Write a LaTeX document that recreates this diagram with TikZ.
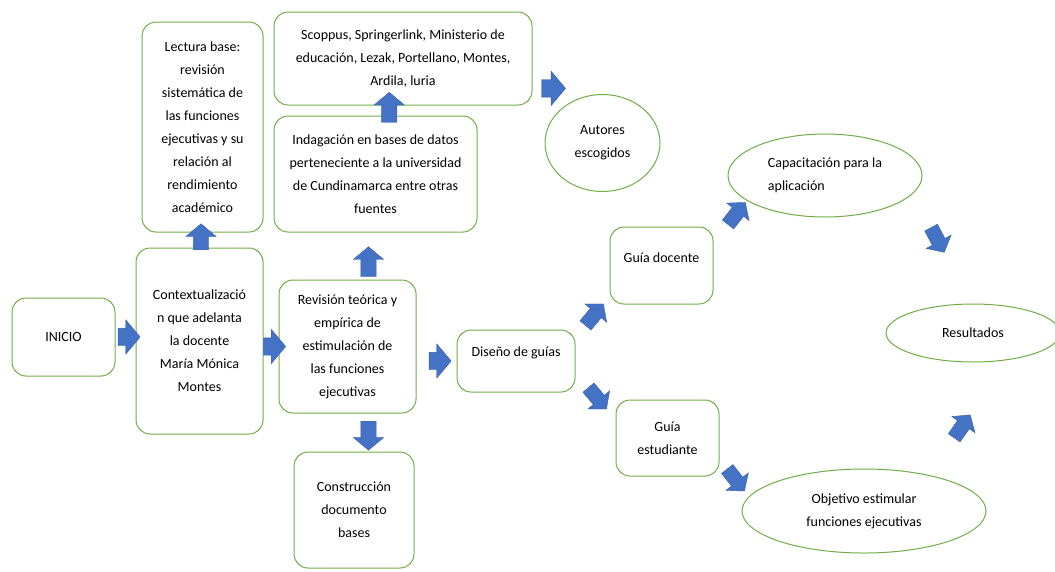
\documentclass[tikz,border=0pt]{standalone}
\usepackage{fontspec}
\setmainfont{Carlito}
\usetikzlibrary{shapes.geometric,shapes.arrows,calc}
\definecolor{boxgreen}{HTML}{70AD47}
\definecolor{arrblue}{HTML}{4472C4}
\tikzset{
  caja/.style={draw=boxgreen,line width=1pt,rounded corners=14pt,align=center,inner sep=0pt,
    font=\fontsize{14}{23}\selectfont},
  elip/.style={draw=boxgreen,line width=1pt,ellipse,align=center,inner sep=0pt,
    font=\fontsize{14}{23}\selectfont},
  flecha/.style={single arrow,fill=arrblue,draw=arrblue!85!black,line width=0.4pt,inner xsep=0pt,
    inner ysep=8.5pt,minimum height=22pt,single arrow head extend=8.5pt,single arrow tip angle=100},
  vert/.style={flecha,inner ysep=7.5pt,single arrow head extend=7.5pt,minimum height=30pt},
  diag/.style={flecha,inner ysep=7pt,single arrow head extend=7pt,minimum height=28pt}
}
\begin{document}
\begin{tikzpicture}[x=1pt,y=-1pt]
\useasboundingbox (0,0) rectangle (1055,571);

\node[caja,minimum width=103pt,minimum height=78pt] (ini) at (63.5,337) {INICIO};
\node[caja,minimum width=127pt,minimum height=186pt] (ctx) at (199.5,341)
  {Contextualizació\\n que adelanta\\la docente\\María Mónica\\Montes};
\node[caja,minimum width=121pt,minimum height=210pt] (lect) at (202.5,127)
  {Lectura base:\\revisión\\sistemática de\\las funciones\\ejecutivas y su\\relación al\\rendimiento\\académico};
\node[caja,minimum width=258pt,minimum height=93pt] (scop) at (403,58.5)
  {Scoppus, Springerlink, Ministerio de\\educación, Lezak, Portellano, Montes,\\Ardila, luria};
\node[caja,minimum width=203pt,minimum height=116pt] (ind) at (375.5,174)
  {Indagación en bases de datos\\perteneciente a la universidad\\de Cundinamarca entre otras\\fuentes};
\node[caja,minimum width=137pt,minimum height=133pt] (rev) at (347.5,346.5)
  {Revisión teórica y\\empírica de\\estimulación de\\las funciones\\ejecutivas};
\node[caja,minimum width=120pt,minimum height=116pt] (cons) at (354,510)
  {Construcción\\documento\\bases};
\node[caja,minimum width=118pt,minimum height=62pt,text depth=19pt] (dis) at (516,361) {Diseño de guías};
\node[caja,minimum width=103pt,minimum height=77pt,text depth=15pt] (gd) at (661.5,265.5) {Guía docente};
\node[caja,minimum width=103pt,minimum height=76pt] (ge) at (667.5,438) {Guía\\estudiante};
\node[elip,minimum width=115pt,minimum height=97pt] (aut) at (602.5,143) {Autores\\escogidos};
\node[elip,minimum width=194pt,minimum height=83pt,align=left] (cap) at (825,175.5)
  {Capacitación para la\\aplicación};
\node[elip,minimum width=174pt,minimum height=58pt] (res) at (973,333) {Resultados};
\node[elip,minimum width=244pt,minimum height=84pt] (obj) at (864,511)
  {Objetivo estimular\\funciones ejecutivas};

\path (ini.east) -- (ini.east -| ctx.west) node[midway,flecha] {};
\path (ctx.east |- rev.west) -- (rev.west) node[midway,flecha] {};
\path (ctx.north) -- (lect.south) node[midway,vert,rotate=90,minimum height=26pt] {};
\path ([xshift=21pt]rev.north) -- ([xshift=21pt]rev.north |- ind.south)
  node[pos=0.31,vert,rotate=90] {};
\path ([xshift=21pt]rev.south) -- ([xshift=21pt]rev.south |- cons.north)
  node[midway,vert,rotate=-90,minimum height=29pt] {};
\path (dis.west -| rev.east) -- (dis.west) node[midway,flecha] {};
\path (ind.north) -- (scop.south) node[midway,vert,rotate=90] {};
\path (scop.east) -- (aut.north west) node[pos=0.6,flecha,minimum height=24pt] {};
\path (dis.north east) -- (gd.south west) node[midway,diag,rotate=50] {};
\path (dis.south east) -- (ge.north west) node[midway,diag,rotate=-50] {};
\path (gd.north east) -- (cap.south west) node[midway,diag,rotate=52] {};
\path (ge.south east) -- (obj.north west) node[pos=0.25,diag,rotate=-52] {};
\path (cap.south east) -- (res.north east) node[pos=0.3,diag,rotate=-62] {};
\path (obj.north east) -- (res.south) node[pos=0.44,diag,rotate=55] {};
\end{tikzpicture}
\end{document}
